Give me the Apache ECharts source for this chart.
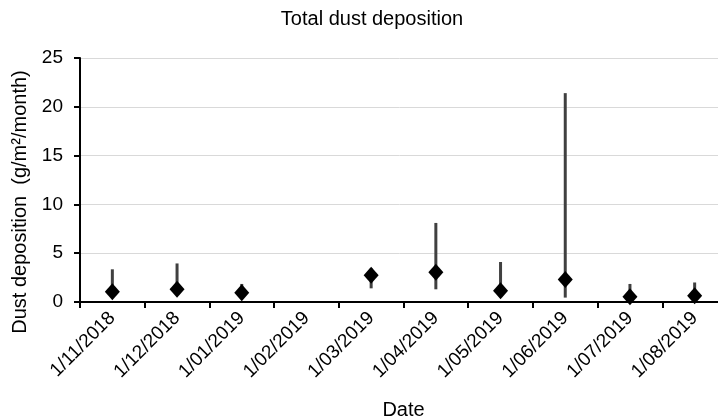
<!DOCTYPE html>
<html>
<head>
<meta charset="utf-8">
<script src="https://cdn.jsdelivr.net/npm/echarts@6/dist/echarts.min.js"></script>
<style>
  html, body { margin: 0; padding: 0; background: #fff; }
  #chart { width: 718px; height: 420px; }
</style>
</head>
<body>
<div id="chart"></div>
<script>
const dates = ['1/11/2018', '1/12/2018', '1/01/2019', '1/02/2019', '1/03/2019',
  '1/04/2019', '1/05/2019', '1/06/2019', '1/07/2019', '1/08/2019'];
const meanDep = [1.05, 1.3, 0.95, null, 2.75, 3.05, 1.15, 2.3, 0.55, 0.65];
const maxDep = [3.35, 3.95, 1.85, null, 3.45, 8.1, 4.1, 21.4, 1.85, 2.0];
const minDep = [0.8, 1.0, 0.7, null, 1.4, 1.3, 0.5, 0.45, 0.05, 0.3];
const yTicks = [0, 25, 5]; // min, max, step

const font = 'Arial, "Liberation Sans", sans-serif';

const rangeData = dates.map((d, i) => [i, minDep[i], maxDep[i]]).filter((r) => r[1] != null);

const chart = echarts.init(document.getElementById('chart'), null, { renderer: 'canvas' });

chart.setOption({
  animation: false,
  backgroundColor: '#fff',
  textStyle: { fontFamily: font, color: '#000' },
  title: {
    text: 'Total dust deposition',
    left: 367,
    top: 4,
    textAlign: 'center',
    textStyle: { fontFamily: font, fontSize: 20, fontWeight: 'normal', color: '#000' },
  },
  grid: { left: 80, right: -9, top: 58, bottom: 118, outerBoundsMode: 'none' },
  xAxis: {
    type: 'category',
    data: dates,
    boundaryGap: true,
    name: 'Date',
    nameLocation: 'middle',
    nameGap: 98,
    nameTextStyle: { fontSize: 20, color: '#000' },
    axisLine: { lineStyle: { color: '#000', width: 2 } },
    axisTick: { show: true, interval: 0, length: 6, lineStyle: { color: '#000', width: 2 } },
    axisLabel: { interval: 0, rotate: 45, fontSize: 19, color: '#000', margin: 13 },
  },
  yAxis: {
    type: 'value',
    min: yTicks[0],
    max: yTicks[1],
    interval: yTicks[2],
    name: 'Dust deposition  (g/m\u00b2/month)',
    nameLocation: 'middle',
    nameGap: 46,
    nameRotate: 90,
    nameTextStyle: { fontSize: 20, color: '#000', padding: [0, 44, 0, 0] },
    axisLine: { show: true, lineStyle: { color: '#000', width: 2 } },
    axisTick: { show: true, length: 6, lineStyle: { color: '#000', width: 2 } },
    axisLabel: { fontSize: 19, color: '#000', margin: 17 },
    splitLine: { lineStyle: { color: '#d9d9d9', width: 1 } },
  },
  series: [
    {
      type: 'custom',
      data: rangeData,
      renderItem: (params, api) => {
        const top = api.coord([api.value(0), api.value(2)]);
        const bottom = api.coord([api.value(0), api.value(1)]);
        return {
          type: 'line',
          shape: { x1: top[0], y1: top[1], x2: bottom[0], y2: bottom[1] },
          style: { stroke: '#404040', lineWidth: 3 },
        };
      },
      z: 2,
    },
    {
      type: 'scatter',
      data: meanDep,
      symbol: 'diamond',
      symbolSize: [15, 17],
      itemStyle: { color: '#000', opacity: 1 },
      z: 3,
    },
  ],
});
</script>
</body>
</html>
